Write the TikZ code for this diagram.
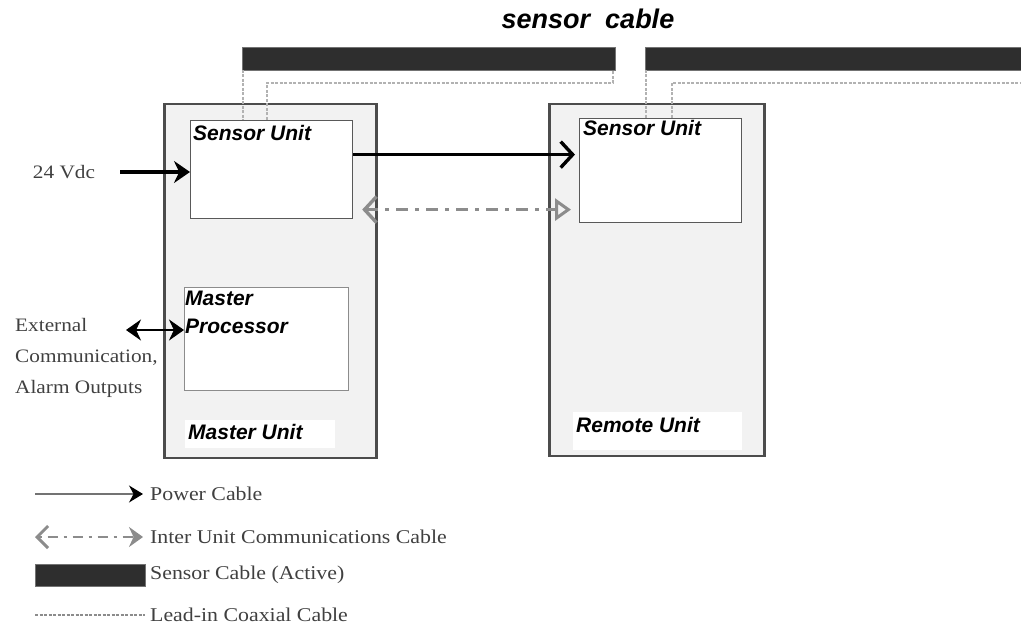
\documentclass[tikz,border=0pt]{standalone}
\usepackage{fontspec}
\setmainfont{Liberation Serif}
\setsansfont{Liberation Sans}
\newfontfamily\legfont{Liberation Serif}[FakeStretch=1.12]
\usetikzlibrary{arrows.meta}
\begin{document}
\begin{tikzpicture}[x=1pt,y=-1pt,
  unitbox/.style={draw=black!70,line width=2.5pt,fill=black!5,anchor=north west,inner sep=0pt},
  subbox/.style={draw=black!65,line width=1.2pt,fill=white,anchor=north west,inner sep=0pt},
  tagbox/.style={fill=white,anchor=north west,inner sep=0pt},
  lbl/.style={font=\sffamily\bfseries\itshape\fontsize{21}{24}\selectfont,anchor=north west,inner sep=0pt,align=left},
  bar/.style={fill=black!82,draw=black!55,line width=0.8pt,anchor=north west,inner sep=0pt},
  coax/.style={draw=black!30,line width=1.6pt,dash pattern=on 3pt off 1.5pt},
  pow/.style={line width=3.2pt,-{Straight Barb[length=12pt,width=26pt,line width=3.4pt]}},
  powin/.style={line width=3.2pt,-{Stealth[length=16pt,width=22pt]}},
  biarrow/.style={line width=2.2pt,{Stealth[length=15pt,width=21pt]}-{Stealth[length=15pt,width=21pt]}},
  comm/.style={draw=black!45,line width=3.2pt,dash pattern=on 12pt off 7pt on 4pt off 7pt,
    {Straight Barb[length=12pt,width=26pt,line width=3.4pt]}-{Triangle[open,length=16pt,width=22pt,line width=3pt]}},
  sidetext/.style={font=\legfont\fontsize{19}{31}\selectfont,text=black!75,inner sep=0pt},
  legtext/.style={font=\legfont\fontsize{19.5}{22}\selectfont,text=black!75,anchor=west,inner sep=0pt}
]
\useasboundingbox (0,0) rectangle (1021,628);

% title
\node[font=\sffamily\bfseries\itshape\fontsize{27}{29}\selectfont,inner sep=0pt] (title) at (588,19) {sensor\ \ cable};

% sensor cable bars
\node[bar,minimum width=373,minimum height=23] (barL) at (242,47) {};
\node[bar,minimum width=380,minimum height=23] (barR) at (645,47) {};

% master unit
\node[unitbox,minimum width=212,minimum height=354] (master) at (163,103) {};
\node[subbox,minimum width=162,minimum height=98] (msu) at (190,120) {};
\node[lbl] (msut) at (193,125) {Sensor Unit};
\node[subbox,draw=black!45,minimum width=164,minimum height=103] (mp) at (184,287) {};
\node[lbl,align=left] (mpt) at (185,291) {Master\\[4pt]Processor};
\node[tagbox,minimum width=150,minimum height=28] (mtag) at (185,420) {};
\node[lbl] (mtagt) at (188,424) {Master Unit};

% remote unit
\node[unitbox,minimum width=215,minimum height=352] (remote) at (548,103) {};
\node[subbox,minimum width=162,minimum height=104] (rsu) at (579,118) {};
\node[lbl] (rsut) at (583,120) {Sensor Unit};
\node[tagbox,minimum width=169,minimum height=38] (rtag) at (573,412) {};
\node[lbl] (rtagt) at (576,417) {Remote Unit};

% lead-in coax
\coordinate (lA) at (243,70);
\coordinate (lB) at (267,83);
\coordinate (lC) at (613,70);
\draw[coax] (lA) -- (lA |- msu.north);
\draw[coax] (lB |- msu.north) -- (lB) -- (lB -| lC) -- (lC);
\coordinate (rA) at (646,70);
\coordinate (rB) at (672,83);
\draw[coax] (rA) -- (rA |- rsu.north);
\draw[coax] (rB |- rsu.north) -- (rB) -- (1021,83);

% power cable between units
\coordinate (p1) at ([yshift=15pt]msu.east);
\draw[pow] (p1) -- ([xshift=-4pt]p1 -| rsu.west);

% inter unit communication
\coordinate (c1) at ([xshift=9pt,yshift=-40pt]msu.east);
\coordinate (c2) at (c1 -| rsu.west);
\draw[comm] (c1) -- ([xshift=-8pt]c2);

% 24 Vdc input
\node[sidetext] (vdc) at (64,172) {24 Vdc};
\coordinate (v1) at (120,172);
\draw[powin] (v1) -- (v1 -| msu.west);

% external communication
\node[sidetext,anchor=north west,align=left] (ext) at (15,318) {External\\Communication,\\Alarm Outputs};
\coordinate (e1) at (126,330);
\draw[biarrow] (e1) -- (e1 -| mp.west);

% legend
\coordinate (L1) at (35,494);
\coordinate (L1e) at (143,494);
\draw[line width=1.3pt,draw=black!55,-{Stealth[length=14pt,width=17pt,black]}] (L1) -- (L1e);
\node[legtext] (L1t) at (150,494) {Power Cable};

\coordinate (L2) at (35,537);
\coordinate (L2e) at (143,537);
\draw[draw=black!45,line width=2.4pt,dash pattern=on 3pt off 6pt on 10pt off 6pt,
  {Straight Barb[length=11pt,width=22pt,line width=3pt]}-{Stealth[length=14pt,width=20pt,black!45]}] (L2) -- (L2e);
\node[legtext] (L2t) at (150,537) {Inter Unit Communications Cable};

\node[bar,anchor=west,minimum width=110,minimum height=22] (L3) at (35,575) {};
\node[legtext] (L3t) at (150,575) {Sensor Cable (Active)};

\coordinate (L4) at (35,615);
\coordinate (L4e) at (145,615);
\draw[coax,line width=1.2pt,draw=black!45] (L4) -- (L4e);
\node[legtext] (L4t) at (150,615) {Lead-in Coaxial Cable};
\end{tikzpicture}
\end{document}
